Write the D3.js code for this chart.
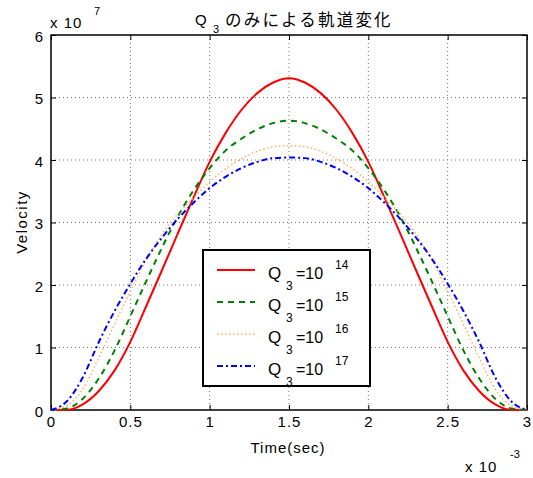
<!DOCTYPE html>
<html>
<head>
<meta charset="utf-8">
<script src="https://cdn.jsdelivr.net/npm/d3@7"></script>
<style>
	body { margin: 0; background: #fff; }
	svg { display: block; font-family: 'Liberation Sans', Arial, sans-serif; }
	.tick text { font-size: 15px; letter-spacing: 1px; fill: #000; }
	.tick line { stroke: #000; }
</style>
</head>
<body>
<div id="chart"></div>
<script>
// Define margins
const MARGIN = {top: 35, right: 6, bottom: 68, left: 51};
const OUTER_WIDTH = 533;
const OUTER_HEIGHT = 478;

// Time axis (x10^-3 sec)
const TIME = [0.0, 0.1, 0.2, 0.3, 0.4, 0.5, 0.6, 0.7, 0.8, 0.9, 1.0,
			  1.1, 1.2, 1.3, 1.4, 1.5, 1.6, 1.7, 1.8, 1.9, 2.0,
			  2.1, 2.2, 2.3, 2.4, 2.5, 2.6, 2.7, 2.8, 2.9, 3.0];

// Velocity (x10^7) for each Q3
const V_Q14 = [0, 0.003, 0.09, 0.30, 0.63, 1.09, 1.66, 2.24, 2.83, 3.41, 3.97,
			   4.43, 4.80, 5.07, 5.24, 5.31, 5.24, 5.07, 4.80, 4.43, 3.97,
			   3.41, 2.83, 2.24, 1.66, 1.09, 0.63, 0.30, 0.09, 0.003, 0];
const V_Q15 = [0, 0.025, 0.18, 0.50, 0.95, 1.50, 2.06, 2.60, 3.10, 3.52, 3.87,
			   4.15, 4.34, 4.49, 4.59, 4.63, 4.59, 4.49, 4.34, 4.15, 3.87,
			   3.52, 3.10, 2.60, 2.06, 1.50, 0.95, 0.50, 0.18, 0.025, 0];
const V_Q16 = [0, 0.07, 0.33, 0.83, 1.37, 1.90, 2.40, 2.82, 3.14, 3.40, 3.65,
			   3.86, 4.02, 4.14, 4.21, 4.23, 4.21, 4.14, 4.02, 3.86, 3.65,
			   3.40, 3.14, 2.82, 2.40, 1.90, 1.37, 0.83, 0.33, 0.07, 0];
const V_Q17 = [0, 0.14, 0.52, 1.08, 1.58, 2.02, 2.42, 2.76, 3.06, 3.32, 3.55,
			   3.73, 3.87, 3.97, 4.03, 4.04, 4.03, 3.97, 3.87, 3.73, 3.55,
			   3.32, 3.06, 2.76, 2.42, 2.02, 1.58, 1.08, 0.52, 0.14, 0];

const EXPONENTS = ['14', '15', '16', '17'];
const COLORS = ['#ff0000', '#008000', '#ffb060', '#0000ff'];
const DASHES = [null, '6,5', '1.5,2.5', '6,3,2,3'];
const WIDTHS = [2, 2, 1.5, 2];

// Tick labels
const X_TICKS = [0, 0.5, 1, 1.5, 2, 2.5, 3];
const X_TICK_LABELS = ['0', '0.5', '1', '1.5', '2', '2.5', '3'];
const Y_TICKS = [0, 1, 2, 3, 4, 5, 6];
const Y_TICK_LABELS = ['0', '1', '2', '3', '4', '5', '6'];

const width = OUTER_WIDTH - MARGIN.left - MARGIN.right;
const height = OUTER_HEIGHT - MARGIN.top - MARGIN.bottom;

const root = d3.select('#chart').append('svg')
	.attr('width', OUTER_WIDTH)
	.attr('height', OUTER_HEIGHT);

const svg = root.append('g')
	.attr('transform', `translate(${MARGIN.left}, ${MARGIN.top})`);

// Scales
const xScale = d3.scaleLinear().domain([0, 3]).range([0, width]);
const yScale = d3.scaleLinear().domain([0, 6]).range([height, 0]);

// Dotted grid
svg.append('g').selectAll('line')
	.data(X_TICKS.slice(1, -1))
	.enter().append('line')
	.attr('x1', d => xScale(d)).attr('x2', d => xScale(d))
	.attr('y1', 0).attr('y2', height)
	.attr('stroke', '#777').attr('stroke-dasharray', '1,3');

svg.append('g').selectAll('line')
	.data(Y_TICKS.slice(1, -1))
	.enter().append('line')
	.attr('y1', d => yScale(d)).attr('y2', d => yScale(d))
	.attr('x1', 0).attr('x2', width)
	.attr('stroke', '#777').attr('stroke-dasharray', '1,3');

// Axes with inward ticks
const xAxis = svg.append('g')
	.attr('transform', `translate(0, ${height})`)
	.call(d3.axisBottom(xScale).tickValues(X_TICKS)
		.tickFormat((d, i) => X_TICK_LABELS[i])
		.tickSizeInner(-5).tickSizeOuter(0).tickPadding(6));
xAxis.selectAll('text').attr('dy', '0.71em');

svg.append('g')
	.call(d3.axisTop(xScale).tickValues(X_TICKS).tickFormat('')
		.tickSizeInner(-5).tickSizeOuter(0));

const yAxis = svg.append('g')
	.call(d3.axisLeft(yScale).tickValues(Y_TICKS)
		.tickFormat((d, i) => Y_TICK_LABELS[i])
		.tickSizeInner(-5).tickSizeOuter(0).tickPadding(7));
yAxis.selectAll('text').attr('dy', '0.42em');

svg.append('g')
	.attr('transform', `translate(${width}, 0)`)
	.call(d3.axisRight(yScale).tickValues(Y_TICKS).tickFormat('')
		.tickSizeInner(-5).tickSizeOuter(0));

svg.selectAll('.domain').remove();
svg.selectAll('.tick text').attr('font-family', null).attr('font-size', null);

// Frame
svg.append('rect')
	.attr('width', width).attr('height', height)
	.attr('fill', 'none').attr('stroke', '#000').attr('stroke-width', 1.5);

// Curves
const series = [V_Q14, V_Q15, V_Q16, V_Q17];
const line = d3.line()
	.x(d => xScale(d[0]))
	.y(d => yScale(d[1]))
	.curve(d3.curveMonotoneX);

series.forEach((values, i) => {
	svg.append('path')
		.datum(TIME.map((t, j) => [t, values[j]]))
		.attr('d', line)
		.attr('fill', 'none')
		.attr('stroke', COLORS[i])
		.attr('stroke-width', WIDTHS[i])
		.attr('stroke-dasharray', DASHES[i]);
});

// Legend
const legend = root.append('g').attr('transform', 'translate(203, 250)');
legend.append('rect')
	.attr('width', 167).attr('height', 136)
	.attr('fill', '#fff').attr('stroke', '#000').attr('stroke-width', 2);

const rows = legend.selectAll('.row')
	.data(EXPONENTS)
	.enter().append('g')
	.attr('class', 'row')
	.attr('transform', (d, i) => `translate(0, ${20 + i * 32})`);

rows.append('line')
	.attr('x1', 14).attr('x2', 52)
	.attr('stroke', (d, i) => COLORS[i])
	.attr('stroke-width', (d, i) => WIDTHS[i])
	.attr('stroke-dasharray', (d, i) => DASHES[i]);

rows.append('text').attr('x', 65).attr('y', 9).attr('font-size', 17).text('Q');
rows.append('text').attr('x', 83).attr('y', 20).attr('font-size', 12).text('3');
rows.append('text').attr('x', 93).attr('y', 9).attr('font-size', 16).text('=10');
rows.append('text').attr('x', 132).attr('y', -1).attr('font-size', 12).text(d => d);

// Title
const title = root.append('g');
title.append('text').attr('x', 195).attr('y', 25).attr('font-size', 15).text('Q');
title.append('text').attr('x', 213).attr('y', 33).attr('font-size', 11).text('3');
title.append('text').attr('x', 225).attr('y', 26)
	.attr('font-family', "'Noto Sans CJK JP', sans-serif")
	.attr('font-size', 16.5).attr('letter-spacing', 2.2)
	.text('のみによる軌道変化');

// Exponent labels
root.append('text').attr('x', 50).attr('y', 28).attr('font-size', 15)
	.attr('letter-spacing', 1).text('x 10');
root.append('text').attr('x', 94).attr('y', 15).attr('font-size', 11).text('7');
root.append('text').attr('x', 465).attr('y', 472).attr('font-size', 15)
	.attr('letter-spacing', 1).text('x 10');
root.append('text').attr('x', 510).attr('y', 458).attr('font-size', 11).text('-3');

// Axis labels
root.append('text')
	.attr('text-anchor', 'middle')
	.attr('transform', `translate(288, 453)`)
	.attr('font-size', 15).attr('letter-spacing', 1)
	.text('Time(sec)');

root.append('text')
	.attr('text-anchor', 'middle')
	.attr('transform', `translate(27, 222)rotate(-90)`)
	.attr('font-size', 15).attr('letter-spacing', 1.5)
	.text('Velocity');
</script>
</body>
</html>
